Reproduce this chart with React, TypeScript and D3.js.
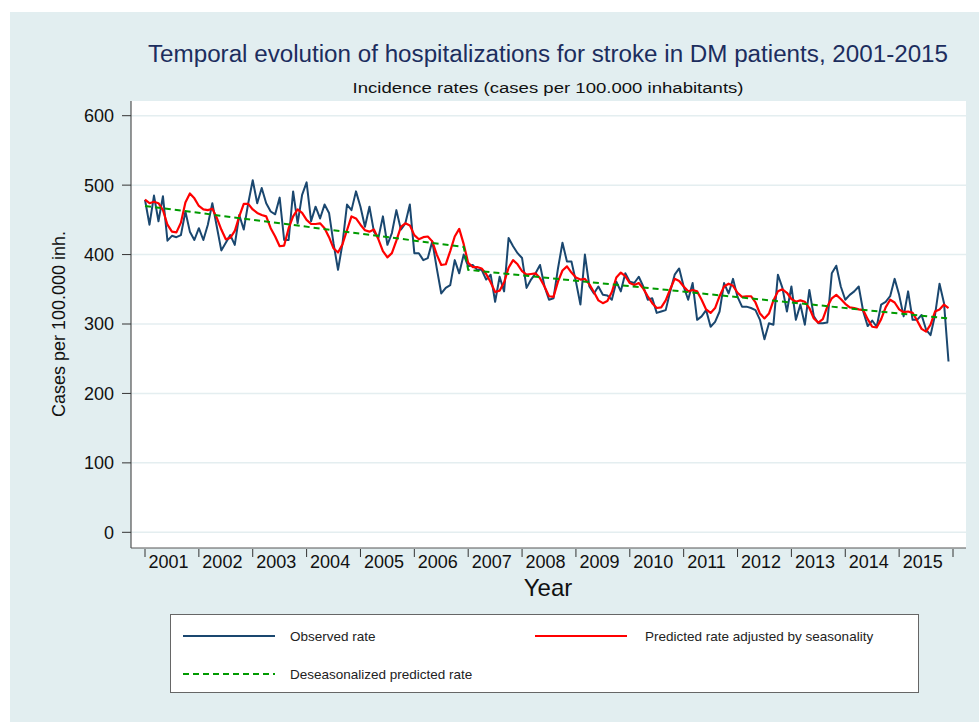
import React from 'react';
import * as d3 from 'd3';

// years on the x axis (one band per year, 12 monthly points each)
const YEARS = [2001, 2002, 2003, 2004, 2005, 2006, 2007, 2008, 2009, 2010, 2011, 2012, 2013, 2014, 2015];
const Y_TICKS = [0, 100, 200, 300, 400, 500, 600];

// monthly observed incidence rate, Jan 2001 .. Dec 2015
const OBSERVED = [
  479, 443, 485, 448, 484, 420, 427, 425, 428, 462, 433, 421,
  438, 421, 443, 474, 440, 406, 417, 428, 414, 457, 436, 474,
  507, 474, 496, 474, 462, 458, 482, 421, 421, 491, 445, 486,
  504, 448, 469, 452, 472, 460, 416, 378, 416, 472, 464, 491,
  469, 440, 469, 433, 424, 455, 414, 431, 464, 436, 445, 472,
  402, 402, 392, 395, 419, 380, 344, 352, 356, 392, 373, 400,
  383, 385, 378, 378, 364, 371, 332, 368, 347, 424, 412, 402,
  395, 352, 364, 373, 385, 354, 335, 337, 380, 417, 390, 390,
  361, 328, 400, 354, 344, 354, 342, 341, 335, 361, 347, 373,
  361, 359, 368, 354, 335, 337, 316, 318, 320, 347, 371, 380,
  354, 335, 359, 306, 311, 320, 296, 303, 318, 359, 344, 365,
  339, 325, 325, 323, 320, 306, 278, 301, 299, 371, 352, 318,
  354, 306, 328, 299, 349, 311, 301, 301, 302, 373, 384, 354,
  335, 342, 347, 354, 318, 297, 305, 296, 328, 332, 340, 365,
  342, 311, 347, 306, 306, 313, 292, 284, 313, 358, 330, 246,
];

// predicted rate adjusted by seasonality
const PREDICTED = [
  479, 474, 476, 474, 464, 443, 433, 432, 446, 475, 488, 481,
  470, 465, 464, 466, 453, 436, 422, 424, 434, 455, 473, 473,
  465, 460, 457, 455, 438, 426, 412, 413, 438, 455, 465, 460,
  450, 444, 444, 445, 438, 425, 409, 403, 415, 435, 455, 452,
  443, 435, 433, 436, 422, 405, 396, 402, 420, 440, 445, 442,
  428, 422, 425, 426, 419, 400, 385, 386, 405, 426, 437, 415,
  388, 382, 382, 380, 372, 360, 346, 348, 360, 381, 392, 386,
  376, 371, 372, 373, 366, 354, 340, 339, 361, 377, 383, 374,
  367, 364, 365, 357, 346, 334, 330, 333, 346, 367, 374, 369,
  359, 356, 359, 351, 340, 330, 323, 324, 334, 350, 365, 362,
  354, 347, 349, 347, 335, 321, 316, 323, 340, 354, 358, 355,
  345, 339, 340, 340, 331, 315, 308, 315, 334, 347, 350, 345,
  336, 332, 334, 332, 323, 308, 302, 307, 325, 337, 342, 336,
  329, 324, 323, 321, 320, 307, 296, 295, 307, 324, 335, 331,
  321, 317, 318, 316, 305, 293, 289, 299, 318, 321, 328, 323,
];

// deseasonalized trend: straight segments with a level change in Jan 2007
const TREND = [
  { m: 0, v: 470 },
  { m: 71, v: 411 },
  { m: 72, v: 378 },
  { m: 179, v: 308 },
];

const W = 979;
const H = 722;
const FONT = 'Liberation Sans, Arial, sans-serif';

export default function App() {
  const plot = { left: 131, top: 101, right: 966, bottom: 548 };

  const x = d3.scaleLinear().domain([0, YEARS.length * 12]).range([145, 953]);
  const y = d3.scaleLinear().domain([0, 600]).range([532.3, 115.7]);

  const line = d3.line<number>()
    .x((_, i) => x(i))
    .y(d => y(d));

  const trendLine = d3.line<{ m: number; v: number }>()
    .x(d => x(d.m))
    .y(d => y(d.v));

  const yearTicks = d3.range(YEARS.length + 1).map(k => x(k * 12));

  return (
    <div style={{ position: 'absolute', left: 0, top: 0 }}>
      <svg width={W} height={H} style={{ display: 'block', fontFamily: FONT }}>
        <rect x={0} y={0} width={W} height={H} fill="#fff" />
        <rect x={10} y={12} width={W - 10} height={H - 12} fill="#e2eef0" />

        <text x={548} y={62} textAnchor="middle" fontSize={23} fill="#1c2d5e"
          textLength={800} lengthAdjust="spacingAndGlyphs">
          Temporal evolution of hospitalizations for stroke in DM patients, 2001-2015
        </text>
        <text x={548} y={92.5} textAnchor="middle" fontSize={15.5} fill="#111"
          textLength={391} lengthAdjust="spacingAndGlyphs">
          Incidence rates (cases per 100.000 inhabitants)
        </text>

        {/* plot region */}
        <rect x={plot.left} y={plot.top} width={plot.right - plot.left} height={plot.bottom - plot.top} fill="#fff" />
        {Y_TICKS.map(t => (
          <line key={'g' + t} x1={plot.left} x2={plot.right} y1={y(t)} y2={y(t)} stroke="#e4eef0" strokeWidth={1.5} />
        ))}

        {/* y axis */}
        <line x1={plot.left} x2={plot.left} y1={plot.top} y2={plot.bottom} stroke="#333" strokeWidth={1} />
        {Y_TICKS.map(t => (
          <g key={'y' + t}>
            <line x1={plot.left - 9} x2={plot.left} y1={y(t)} y2={y(t)} stroke="#333" strokeWidth={1} />
            <text x={plot.left - 17} y={y(t)} dy="0.36em" textAnchor="end" fontSize={18} fill="#111">{t}</text>
          </g>
        ))}
        <text transform={`translate(65,${(y(0) + y(600)) / 2}) rotate(-90)`} textAnchor="middle" fontSize={18} fill="#111">
          Cases per 100.000 inh.
        </text>

        {/* x axis */}
        <line x1={plot.left} x2={plot.right} y1={plot.bottom} y2={plot.bottom} stroke="#555" strokeWidth={1} />
        {yearTicks.map((tx, k) => (
          <line key={'t' + k} x1={tx} x2={tx} y1={plot.bottom + 1} y2={plot.bottom + 9} stroke="#333" strokeWidth={1} />
        ))}
        {YEARS.map((yr, k) => (
          <text key={yr} x={x(k * 12) + 3.5} y={568} fontSize={18} fill="#111">{yr}</text>
        ))}
        <text x={548} y={596} textAnchor="middle" fontSize={24} fill="#111">Year</text>

        {/* series */}
        <path d={line(OBSERVED) || ''} fill="none" stroke="#1a476f" strokeWidth={2} strokeLinejoin="round" />
        <path d={line(PREDICTED) || ''} fill="none" stroke="#ff0000" strokeWidth={2.2} strokeLinejoin="round" />
        <path d={trendLine(TREND) || ''} fill="none" stroke="#009a00" strokeWidth={2} strokeDasharray="6,4" />

        {/* legend */}
        <rect x={170.5} y={614.5} width={748} height={78} fill="#fff" stroke="#666" strokeWidth={1} />
        <line x1={183} x2={275} y1={636} y2={636} stroke="#1a476f" strokeWidth={2} />
        <text x={290} y={636} dy="0.35em" fontSize={13.5} fill="#222">Observed rate</text>
        <line x1={535} x2={627} y1={636} y2={636} stroke="#ff0000" strokeWidth={2} />
        <text x={645} y={636} dy="0.35em" fontSize={13.5} fill="#222">Predicted rate adjusted by seasonality</text>
        <line x1={183} x2={275} y1={674} y2={674} stroke="#009a00" strokeWidth={2} strokeDasharray="6,4" />
        <text x={290} y={674} dy="0.35em" fontSize={13.5} fill="#222">Deseasonalized predicted rate</text>
      </svg>
    </div>
  );
}
